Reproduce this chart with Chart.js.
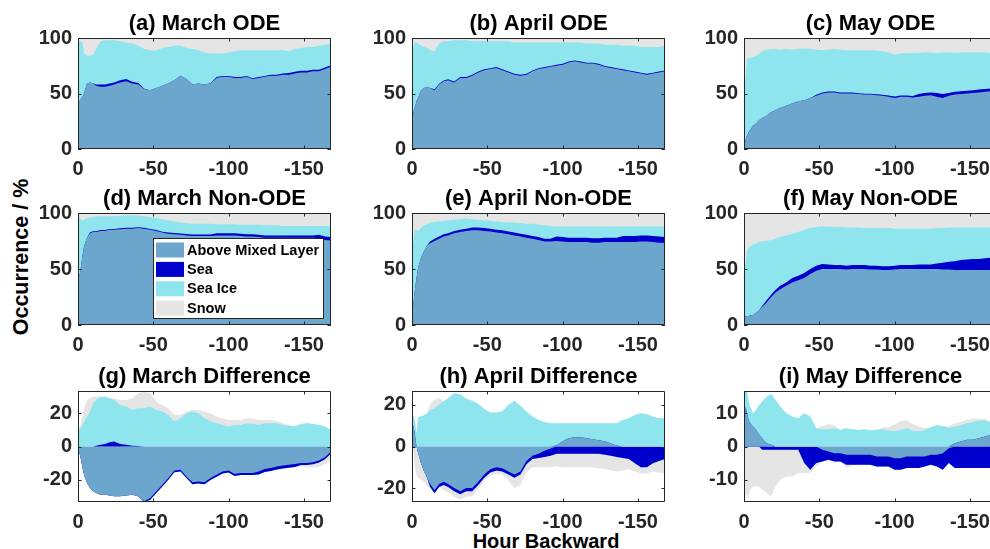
<!DOCTYPE html>
<html><head><meta charset="utf-8">
<script src="https://cdn.jsdelivr.net/npm/chart.js@4.4.1/dist/chart.umd.min.js"></script>
<style>
html,body{margin:0;padding:0;background:#fff;overflow:hidden;width:990px;height:549px;}
#wrap{position:relative;width:990px;height:549px;overflow:hidden;background:#fff;}
#wrap canvas{position:absolute;}
.lbl{position:absolute;font-family:"Liberation Sans",Arial,Helvetica,sans-serif;font-weight:bold;color:#000;white-space:nowrap;}
</style></head>
<body><div id="wrap">
<div class="lbl" id="ylab" style="left:21.5px;top:256.5px;font-size:21.5px;line-height:21.5px;transform:translate(-50%,-50%) rotate(-90deg);">Occurrence / %</div>
<div class="lbl" id="xlab" style="left:546px;top:530.5px;font-size:20px;line-height:20px;transform:translateX(-50%);">Hour Backward</div>
</div>
<script>
// ---------- data (hours backward; values in %) ----------
const hours = [0,1,2,3,4,6,8,10,12,15,18,21,24,28,32,36,40,44,48,52,56,60,64,68,72,76,80,84,88,92,96,100,104,108,112,116,120,124,128,132,136,140,144,148,152,156,160,164,168];
const xTicks = [0,-50,-100,-150];
const seriesNames = ['Above Mixed Layer','Sea','Sea Ice','Snow'];

// (a) March ODE
const marOdeAml = [42,43,45,47,50,59,60,59,57,56,56,57,58,60,61,59,58,54,53,55,57,59,62,66,63,58,59,58,59,64,65,65,64,64,65,63,64,65,66,66,67,67,68,69,69,70,70,72,74];
const marOdeSea = [0,0,0,0,0,0,0,0,1,2,2,2,2,2,2,1.5,1.5,0.3,0,0,0,0,0,0,0,0,0,0,0.3,0.8,0.8,0.8,0.8,0.8,0.8,0.8,0.8,0.8,0.8,0.8,1,1.5,1.5,1.5,1.5,1.5,1.5,1.5,1.5];
const marOdeIce = [55,54,52,49,36,25,24,26,32,39,40,39,38,35,33,34.5,33.5,35.7,36,34,34,33,31,27,28,32,30,29,26.7,21.2,20.2,21.2,23.2,24.2,23.2,25.2,24.2,23.2,22.2,22.2,21,19.5,20.5,20.5,21.5,20.5,21.5,20.5,19.5];
const marOdeSnow = [3,3,3,4,14,16,16,15,10,3,2,2,2,3,4,5,7,10,11,11,9,8,7,7,9,10,11,13,14,14,14,13,12,11,11,11,11,11,11,11,11,12,10,9,8,8,7,6,5];

// (b) April ODE
const aprOdeAml = [22,33,38,43,46,53,55,56,55,53,58,61,62,60,64,64,66,69,71,72,73,71,69,67,66,67,70,72,73,74,75,76,78,79,78,77,77,76,74,73,72,71,70,69,68,67,68,69,70];
const aprOdeSea = [0,0,0,0,0,0,0,0,0,0.8,0.8,0.8,0.8,0.8,0.8,0.8,0.8,0.8,0.8,0.8,0.8,0.8,0.8,0.8,0.8,0.8,0.8,0.8,0.8,0.8,0.8,0.8,0.8,0.8,0.8,0.8,0.8,0.8,0.8,0.8,0.8,0.8,0.8,0.8,0.8,0.8,0.8,0.8,0.8];
const aprOdeIce = [53,60,58,53,49,40,37,35,34,34.2,36.2,35.2,34.2,37.2,33.2,33.2,30.2,27.2,25.2,24.2,23.2,25.2,27.2,28.2,29.2,28.2,25.2,23.2,22.2,21.2,20.2,19.2,17.2,16.2,17.2,17.2,17.2,18.2,19.2,20.2,21.2,21.2,22.2,23.2,23.2,24.2,23.2,22.2,22.2];
const aprOdeSnow = [25,7,4,4,5,7,8,9,11,12,5,3,3,2,2,2,3,3,3,3,3,3,3,4,4,4,4,4,4,4,4,4,4,4,4,5,5,5,6,6,6,7,7,7,8,8,8,8,7];

// (c) May ODE
const mayOdeAml = [2,8,12,15,17,21,23,26,28,30,33,35,37,39,41,43,44,46,48,50,51,51,50,50,50,49.5,49,49,48.5,48,47,46,47,47,46.5,47,48,48.5,47,46,48,49,49.5,50,50.5,51,51.5,52,52];
const mayOdeSea = [0,0,0,0,0,0,0,0,0,0,0,0,0,0,0,0,0,0,0.8,0.8,0.8,0.8,0.8,0.8,0.8,0.8,0.8,0.8,0.8,0.8,1.2,1.2,1.2,1.2,1.2,2.5,2.5,2.5,3.5,3.5,2.5,2.5,2.5,2.5,2.5,2.5,2.5,2.5,2.5];
const mayOdeIce = [56,54,69,67,65,62,61,60,60,59.5,57,55,52.5,51,48.5,47,46.5,44,40.7,38.2,37.7,38.2,38.7,38.2,38.2,38.7,39.2,39.2,39.2,39.2,38.8,37.8,37.8,38.3,38.8,37,36.5,36,36,37.5,36.5,35,35,34.5,34,33.5,33,32,32];
const mayOdeSnow = [42,38,19,18,18,17,16,14,12,10.5,10,10,10.5,10,10.5,10,9.5,10,10.5,11,10.5,10,10.5,11,11,11,11,11,11.5,12,13,15,14,13.5,13.5,13.5,13,13,13.5,13,13,13.5,13,13,13,13,13,13.5,13.5];

// (d) March Non-ODE
const marNonAml = [41,44,52,62,70,78,82,83,83,84,84,85,85,85.5,86,86,86.5,86,85,84,82.5,81.5,81,80.5,80,79.5,79.5,79.5,79.5,80,80,80,80,79.5,79,79,78.5,78,78,78,78,78,78,78,78,78,77.5,76,75.5];
const marNonSea = [0,0,0,0,0,0,0.8,0.8,0.8,0.8,0.8,0.8,0.8,0.8,0.8,0.8,0.8,0.8,0.8,0.8,0.8,1.2,1.2,1.2,1.2,1.2,1.2,1.2,1.2,2,2,2,2,2,2,2,2,2,2,2,2,2,1.8,1.8,1.8,1.8,3,3,3];
const marNonIce = [56,52,42,31,24,17,13.2,12.7,13.2,12.2,12.2,11.2,11.2,11.2,11.2,11.2,10.2,10.2,10.7,10.7,11.2,10.8,10.3,9.8,9.8,9.8,9.8,9.8,9.8,8,8,8,8,8,8.5,8.5,9,9,9,9,8.5,8.5,8.7,8.7,8.7,8.7,8,9.5,9.5];
const marNonSnow = [3,4,6,7,6,5,4,3.5,3,3,3,3,3,2.5,2,2,2.5,3,3.5,4.5,5.5,6.5,7.5,8.5,9,9.5,9.5,9.5,9.5,10,10,10,10,10.5,10.5,10.5,10.5,11,11,11,11.5,11.5,11.5,11.5,11.5,11.5,11.5,11.5,12];

// (e) April Non-ODE
const aprNonAml = [8,20,32,42,51,60,66,71,73,75,77,79,80,82,83,84,84.5,84.5,84,83.5,82.5,82,81,80,79,78,77,76,74.5,74.5,75,74.5,74,74,74,74,73.5,73.5,74,74,74,74,74,74,74.5,74.5,74,73.5,73.5];
const aprNonSea = [0,0,0,0,0,0,0,0,1.5,2,2,2,2,2,2,2,2.5,2.5,2.5,2.5,2.5,2.5,2.5,2.5,2.5,2.5,2.5,2.5,2.5,2.5,4,4,4,4,4,4,4,4,4,4,4,5.5,5.5,5.5,5.5,5.5,5.5,5.5,5];
const aprNonIce = [52,55,54,43,33,27,23,19,17,15,13.5,12,11.5,10,9.5,9,7.5,7,7,7,7.5,7.5,8,9,9.5,10,11,11,12,11.5,9,9.5,10,10,10,10,10.5,10.5,10,10,10,8.5,8.5,8.5,8,8,8.5,9,9.5];
const aprNonSnow = [40,25,14,15,16,13,11,10,8.5,8,7.5,7,6.5,6,5.5,5,5.5,6,6.5,7,7.5,8,8.5,8.5,9,9.5,9.5,10.5,11,11.5,12,12,12,12,12,12,12,12,12,12,12,12,12,12,12,12,12,12,12];

// (f) May Non-ODE
const mayNonAml = [7,7.5,8,8,8.5,9,11,13,16,20,25,29,32,35,38,40,42,45.5,48.5,50,50,50,50,49.5,50,50,50,49.5,49.5,49,49,49.5,50,50,50,50,50,50,50,49.5,49.5,49,49,49,49,49,49,49,49];
const mayNonSea = [0,0,0,0,0,0,0,0,1,2,2,2.5,3,3,4,4,4.5,4.5,4.5,4.5,4,3.5,3.5,3.5,3.5,3.5,3.5,3.5,3.5,3.5,3.5,3.5,3.5,3.5,3.5,4,4,4,5,6,7,8,9,9.5,10,10,10.5,11,11];
const mayNonIce = [38,47.5,58,61,61.5,63,62,61,57.5,53,49,45.5,43.5,42,39.5,39,38.5,36.5,34.5,33.5,34,34,34,34,33.5,33.5,33,33.5,33.5,34,34,33,32.5,32.5,32.5,32,32,32,31.5,31,30.5,30,29,28.5,28,28,27.5,27,27];
const mayNonSnow = [55,45,34,31,30,28,27,26,25.5,25,24,23,21.5,20,18.5,17,15,13.5,12.5,12,12,12.5,12.5,13,13,13,13.5,13.5,13.5,13.5,13.5,14,14,14,14,14,14,14,13.5,13.5,13,13,13,13,13,13,13,13,13];

// (g) March Difference
const marDifAml = [-1,-4,-8,-13,-17,-22,-25,-27,-28,-29,-29,-29.5,-30,-30,-29.5,-29,-30,-33,-31,-27,-23,-19,-14.5,-14,-18,-21.5,-21,-21.5,-19,-17,-15,-14.5,-16.5,-16,-16,-16,-15,-13.5,-13,-12,-11.5,-11,-10.5,-10,-10,-9.5,-8.5,-6.5,-3];
const marDifSea = [0,0,0,0,0,0,0,0,0.5,1,1.5,2.5,3,1.5,1,0.5,0.3,-0.5,-1,-1,-1,-1,-1,-1,-1,-1.2,-1.2,-1.2,-1.2,-1.2,-1.2,-1.2,-1.2,-1.2,-1.2,-1.2,-1.8,-1.8,-1.8,-1.8,-1.8,-1.8,-1.8,-1.2,-1.2,-1.2,-1.2,-1.2,-1.2];
const marDifIce = [10,10.5,11,13,15,18,21,26,27.5,29,28.5,26.5,25,23.5,23,21.5,22.7,23,24,22,21,19,15,17,20,21,20,17,15,14,13,12,13,13,14,13.7,13,14,14,14,13,12.5,12,13.5,14,13.5,13,12,10];
const marDifSnow = [0,1,3,6,8,10,8,4,2,0,0,0,1,3,4,7,9,10,8,5,4,4,4,2,1,1,2,4,5,4,4,4,3,3,3,3,3,2,2,1.5,1,0.5,0,-1,-1.5,-2,-2.5,-3,-4];

// (h) April Difference
const aprDifAml = [10,10,5,0,-3,-8,-12,-15,-18,-21,-18,-17,-18,-20,-21.5,-20,-20,-17,-13.5,-11,-10,-10.5,-12,-13.5,-12,-7,-4.5,-3.5,-2,-1,0.5,2.5,4,4.5,4.5,4,3.5,3,2.5,1.5,0.5,0,0,0,0,0,0,0,0];
const aprDifSea = [0,0,0,0,0,0,0,0,-1.5,-1.5,-1.5,-1.5,-1.5,-1.5,-1.5,-1.5,-1.5,-1.5,-1.5,-1.5,-1.5,-1.5,-1.5,-1.5,-1.5,-1.5,-1.5,-2,-3,-3.5,-3.5,-3.5,-3.5,-3.5,-3.5,-3.5,-3.5,-3.5,-4,-4.5,-5,-5.5,-6,-8,-10,-10,-8,-7,-6];
const aprDifIce = [1,5,7,6,14,14.5,15,16,17.5,18.4,20.3,21.6,23.2,25.6,25,23,22,20.5,18,16.3,16.3,17,20,22,19.5,16.8,14.4,12.8,11.7,11.2,10.7,8.7,7.2,6.7,6.7,7.2,7.7,8.2,8.7,9.7,10.7,12.8,13.6,15.2,16,15.5,14.4,13.6,13.6];
const aprDifSnow = [0,-3,-10,-14,-12,-8,-5,-4,3,4,3,-2.5,-2.5,-2.5,-2.5,-2.5,-2.5,-2,-1.5,-1.5,-1.5,-1.5,-3,-5,-5,-4,-4,-4.5,-5,-5.5,-6,-6.5,-6.5,-6.5,-6.5,-6.5,-6.5,-7,-7,-7,-7,-6,-5,-4,-3,-3,-4,-5.5,-7];

// (i) May Difference
const mayDifAml = [0,12,10,8,7,6,5,3.5,2.5,1,0.5,0,0,0,0,0,0,0,0,-1,-1.5,-2,-2,-2.5,-2.5,-2.5,-2.5,-2.5,-3,-3,-3,-3.5,-3.5,-3,-3,-3,-3,-2.5,-2.5,-2,-0.5,1,1.5,2,2,2.5,3,3.5,4];
const mayDifSea = [0,0,0,0,0,0,0,0,-1,-1,-1,-1,-1,-1,-1,-1,-5,-7,-5,-3.5,-2.5,-2.5,-2.5,-3,-3,-3,-3,-3,-3,-3,-3,-3.5,-3.5,-3.5,-3.5,-3.5,-3,-3,-3.5,-5,-4.5,-6.5,-6.5,-6.5,-6.5,-6.5,-6.5,-6.5,-6.5];
const mayDifIce = [16,4.5,6.5,6,5,4,6,9,11,14,15.3,14,12,10,9,8.5,10,9,5.5,5.2,5.2,5.5,5,5.5,5.2,5,5.2,4.8,5,5.2,4.8,4.6,5,5.5,4.8,4.6,5,5.8,6.4,6.2,5.6,5,4.9,5,5.4,5.3,4.8,3.7,3];
const mayDifSnow = [-16,-16,-14,-16,-13,-12,-12,-12,-12,-13,-14,-11,-9,-8,-8,-7,-3,-1,-1,1,1.5,1,0,-1,0,0,0,0,0,0.5,1,2,2.5,2.5,2,1.5,0.5,0,0,0,0.5,1,1,1,1,0.5,0.5,0,0];

// ---------- layout & style ----------
const colors = ['#6CA6CD','#0000CD','#8EE5EE','#E5E5E5'];
const FONT = '"Liberation Sans", Arial, Helvetica, sans-serif';
const colLeft = [78, 412, 744];
const rowTop = [38, 213, 391];
const rowH = [111, 112, 111];
const plotW = 253;
Chart.defaults.font.family = FONT;

const panels = [
  {row:0,col:0,title:'(a) March ODE',series:[marOdeAml,marOdeSea,marOdeIce,marOdeSnow],ymin:0,ymax:100,yt:[0,50,100]},
  {row:0,col:1,title:'(b) April ODE',series:[aprOdeAml,aprOdeSea,aprOdeIce,aprOdeSnow],ymin:0,ymax:100,yt:[0,50,100]},
  {row:0,col:2,title:'(c) May ODE',series:[mayOdeAml,mayOdeSea,mayOdeIce,mayOdeSnow],ymin:0,ymax:100,yt:[0,50,100]},
  {row:1,col:0,title:'(d) March Non-ODE',series:[marNonAml,marNonSea,marNonIce,marNonSnow],ymin:0,ymax:100,yt:[0,50,100],legend:true},
  {row:1,col:1,title:'(e) April Non-ODE',series:[aprNonAml,aprNonSea,aprNonIce,aprNonSnow],ymin:0,ymax:100,yt:[0,50,100]},
  {row:1,col:2,title:'(f) May Non-ODE',series:[mayNonAml,mayNonSea,mayNonIce,mayNonSnow],ymin:0,ymax:100,yt:[0,50,100]},
  {row:2,col:0,title:'(g) March Difference',series:[marDifAml,marDifSea,marDifIce,marDifSnow],ymin:-33.4,ymax:33.4,yt:[-20,0,20],diff:true},
  {row:2,col:1,title:'(h) April Difference',series:[aprDifAml,aprDifSea,aprDifIce,aprDifSnow],ymin:-26.7,ymax:26.7,yt:[-20,0,20],diff:true},
  {row:2,col:2,title:'(i) May Difference',series:[mayDifAml,mayDifSea,mayDifIce,mayDifSnow],ymin:-16.7,ymax:16.7,yt:[-10,0,10],diff:true}
];

const boxPlugin = {
  id: 'matBox',
  afterDatasetsDraw(chart) {
    const {ctx, chartArea: a, scales: {x, y}} = chart;
    ctx.save();
    ctx.strokeStyle = '#262626';
    ctx.lineWidth = 1;
    ctx.beginPath();
    ctx.rect(a.left + 0.5, a.top + 0.5, a.right - a.left - 1, a.bottom - a.top - 1);
    x.ticks.forEach(t => {
      const px = Math.round(x.getPixelForValue(t.value)) + 0.5;
      ctx.moveTo(px, a.bottom); ctx.lineTo(px, a.bottom - 3.5);
      ctx.moveTo(px, a.top); ctx.lineTo(px, a.top + 3.5);
    });
    y.ticks.forEach(t => {
      const py = Math.round(y.getPixelForValue(t.value)) + 0.5;
      ctx.moveTo(a.left, py); ctx.lineTo(a.left + 3.5, py);
      ctx.moveTo(a.right, py); ctx.lineTo(a.right - 3.5, py);
    });
    ctx.stroke();
    ctx.restore();
  }
};

const legendPlugin = {
  id: 'boxLegend',
  afterDraw(chart, args, opts) {
    if (!opts || !opts.show) return;
    const {ctx, chartArea: a} = chart;
    const bx = a.left + 75, by = a.top + 25, bw = 170, bh = 80;
    ctx.save();
    ctx.fillStyle = '#fff';
    ctx.fillRect(bx, by, bw, bh);
    ctx.strokeStyle = '#262626'; ctx.lineWidth = 1;
    ctx.strokeRect(bx + 0.5, by + 0.5, bw, bh);
    ctx.font = 'bold 14.5px ' + FONT;
    ctx.textBaseline = 'middle';
    ctx.textAlign = 'left';
    seriesNames.forEach((n, k) => {
      const cy = by + 12 + k * 19.4;
      ctx.fillStyle = colors[k];
      ctx.fillRect(bx + 3, cy - 7.5, 28, 15);
      ctx.fillStyle = '#000';
      ctx.fillText(n, bx + 34, cy + 0.5);
    });
    ctx.restore();
  }
};

const wrap = document.getElementById('wrap');

function mk(vals, k, stack) {
  return {
    label: seriesNames[k], stack,
    data: hours.map((h, i) => ({x: -h, y: vals[i]})),
    backgroundColor: colors[k], borderColor: 'rgba(0,0,0,0)', borderWidth: 0,
    pointRadius: 0, pointHoverRadius: 0, fill: 'origin', tension: 0
  };
}

panels.forEach(p => {
  const L = colLeft[p.col], T = rowTop[p.row], Hh = rowH[p.row];
  const cw = plotW + 76, ch = Hh + 80;
  const cv = document.createElement('canvas');
  cv.width = cw; cv.height = ch;
  cv.style.left = (L - 70) + 'px'; cv.style.top = (T - 40) + 'px';
  cv.style.width = cw + 'px'; cv.style.height = ch + 'px';
  wrap.appendChild(cv);
  let datasets;
  if (!p.diff) {
    datasets = p.series.map((v, k) => mk(v, k, 'all'));
  } else {
    datasets = p.series.map((v, k) => mk(v.map(z => Math.max(z, 0)), k, 'pos'))
      .concat(p.series.map((v, k) => mk(v.map(z => Math.min(z, 0)), k, 'neg')));
  }
  const tickFont = {family: FONT, size: 20, weight: 'bold'};
  new Chart(cv, {
    type: 'line',
    data: {datasets},
    options: {
      responsive: false, animation: false, events: [],
      devicePixelRatio: 1,
      layout: {padding: {left: 0, right: 6, top: 0, bottom: 0}},
      plugins: {
        legend: {display: false},
        tooltip: {enabled: false},
        title: {display: true, text: p.title, fullSize: false, color: '#000',
                font: {family: FONT, size: 22, weight: 'bold', lineHeight: 1},
                padding: {top: 15, bottom: 3}},
        boxLegend: {show: !!p.legend}
      },
      scales: {
        x: {
          type: 'linear', min: -168, max: 0, reverse: true,
          grid: {display: false, drawTicks: false}, border: {display: false},
          ticks: {font: tickFont, color: '#262626', padding: 8, maxRotation: 0, autoSkip: false},
          afterBuildTicks: s => { s.ticks = xTicks.map(v => ({value: v})); },
          afterFit: s => { s.height = 40; }
        },
        y: {
          type: 'linear', min: p.ymin, max: p.ymax, stacked: true,
          grid: {display: false, drawTicks: false}, border: {display: false},
          ticks: {font: tickFont, color: '#262626', padding: 6, autoSkip: false},
          afterBuildTicks: s => { s.ticks = p.yt.map(v => ({value: v})); },
          afterFit: s => { s.width = 70; }
        }
      }
    },
    plugins: [boxPlugin, legendPlugin]
  });
});
</script>
</body></html>
